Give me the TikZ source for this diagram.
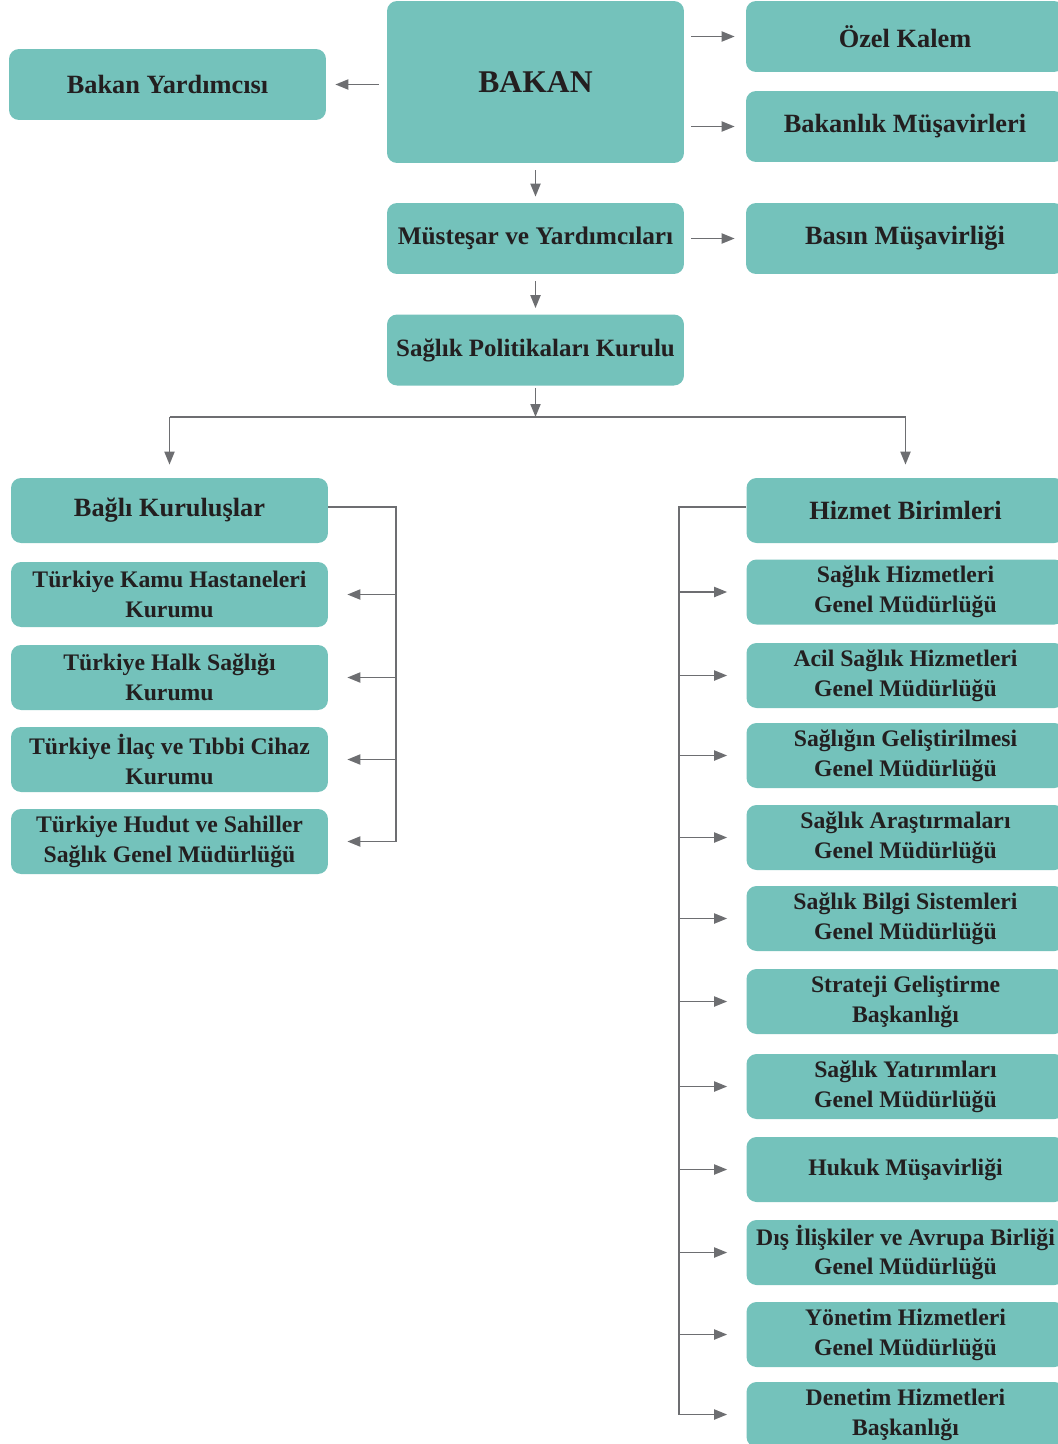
\documentclass[tikz,border=0pt]{standalone}
\usepackage{fontspec}
\setmainfont{Liberation Serif}
\usepackage{tikz}
\usetikzlibrary{%
	arrows.meta,%
	calc%
}
\definecolor{kutu}{HTML}{74C2BB}
\definecolor{ok}{HTML}{6D6E71}
\definecolor{yazi}{HTML}{231F20}

\tikzset{
	birim/.style={fill=kutu,rounded corners=0.2cm,align=center,text=yazi,
		font=\fontsize{13.5pt}{17pt}\selectfont\bfseries,inner sep=0pt},
	genis/.style={birim,minimum width=6.34cm,minimum height=1.3cm},
	orta/.style={birim,minimum width=5.94cm,minimum height=1.42cm},
	sag/.style={birim,minimum width=6.36cm,minimum height=1.3cm},
	baslik/.style={font=\fontsize{15pt}{18pt}\selectfont\bfseries},
	hat/.style={draw=ok,line width=1.1pt},
	okhat/.style={hat,-{Triangle[length=0.26cm,width=0.2cm]}}
}

\begin{document}
\begin{tikzpicture}[x=0.02cm,y=-0.02cm]
			\useasboundingbox (0,0) rectangle (1058,1444);
			% ust kisim
			\node[orta,minimum height=3.24cm,font=\fontsize{18pt}{20pt}\selectfont\bfseries] (bakan) at (535.5,82) {BAKAN};
			\node[genis,baslik,minimum height=1.42cm] (yard) at (167.5,84.5) {Bakan Yardımcısı};
			\node[sag,baslik,minimum height=1.42cm] (ozel) at (905,36.5) {Özel Kalem};
			\node[sag,baslik,minimum height=1.42cm] (musavir) at (905,126.5) {Bakanlık Müşavirleri};
			\node[orta,font=\fontsize{14.4pt}{17pt}\selectfont\bfseries] (mustesar) at (535.5,238.5) {Müsteşar ve Yardımcıları};
			\node[sag,baslik,minimum height=1.42cm] (basin) at (905,238.5) {Basın Müşavirliği};
			\node[orta,font=\fontsize{14.2pt}{17pt}\selectfont\bfseries] (spk) at (535.5,350) {Sağlık Politikaları Kurulu};
			
			\draw[okhat,shorten <=0.16cm,shorten >=0.18cm] (bakan.west |- yard) -- (yard);
			\draw[okhat,shorten <=0.14cm,shorten >=0.22cm] (bakan.east |- ozel) -- (ozel);
			\draw[okhat,shorten <=0.14cm,shorten >=0.22cm] (bakan.east |- musavir) -- (musavir);
			\draw[okhat,shorten <=0.14cm,shorten >=0.12cm] (bakan) -- (mustesar);
			\draw[okhat,shorten <=0.14cm,shorten >=0.22cm] (mustesar) -- (basin);
			\draw[okhat,shorten <=0.14cm,shorten >=0.12cm] (mustesar) -- (spk);
			
			% ayrim
			\coordinate (ayrim) at (535.5,417);
			\draw[okhat,shorten <=0.04cm] (spk) -- (ayrim);
			
			% sol kolon
			\node[genis,baslik] (bagli) at (169.5,510.5) {Bağlı Kuruluşlar};
			\node[genis] (sol1) at (169.5,594.5) {Türkiye Kamu Hastaneleri\\Kurumu};
			\node[genis] (sol2) at (169.5,677.5) {Türkiye Halk Sağlığı\\Kurumu};
			\node[genis] (sol3) at (169.5,759.5) {Türkiye İlaç ve Tıbbi Cihaz\\Kurumu};
			\node[genis] (sol4) at (169.5,841.5) {Türkiye Hudut ve Sahiller\\Sağlık Genel Müdürlüğü};
			
			% sag kolon
			\node[sag,baslik] (hizmet) at (905.5,510.5) {Hizmet Birimleri};
			\node[sag] (sag1) at (905.5,592) {Sağlık Hizmetleri\\Genel Müdürlüğü};
			\node[sag] (sag2) at (905.5,675.5) {Acil Sağlık Hizmetleri\\Genel Müdürlüğü};
			\node[sag] (sag3) at (905.5,755.5) {Sağlığın Geliştirilmesi\\Genel Müdürlüğü};
			\node[sag] (sag4) at (905.5,837.5) {Sağlık Araştırmaları\\Genel Müdürlüğü};
			\node[sag] (sag5) at (905.5,918.5) {Sağlık Bilgi Sistemleri\\Genel Müdürlüğü};
			\node[sag] (sag6) at (905.5,1001.5) {Strateji Geliştirme\\Başkanlığı};
			\node[sag] (sag7) at (905.5,1086.5) {Sağlık Yatırımları\\Genel Müdürlüğü};
			\node[sag] (sag8) at (905.5,1169.5) {Hukuk Müşavirliği};
			\node[sag] (sag9) at (905.5,1252.5) {Dış İlişkiler ve Avrupa Birliği\\Genel Müdürlüğü};
			\node[sag] (sag10) at (905.5,1334.5) {Yönetim Hizmetleri\\Genel Müdürlüğü};
			\node[sag] (sag11) at (905.5,1414.5) {Denetim Hizmetleri\\Başkanlığı};
			
			\draw[hat] (ayrim -| bagli) -- (ayrim -| hizmet);
			\draw[okhat,shorten >=0.26cm] (ayrim -| bagli) -- (bagli);
			\draw[okhat,shorten >=0.26cm] (ayrim -| hizmet) -- (hizmet);
			
			% sol baglanti
			\coordinate (solhat) at (396,507);
			\draw[hat] ($(bagli.east)+(0,-3.5)$) -- (solhat) -- (solhat |- sol4);
			\foreach \i in {1,...,4}
				\draw[okhat,shorten >=0.38cm] (solhat |- sol\i) -- (sol\i.east);
			
			% sag baglanti
			\coordinate (saghat) at (679,507);
			\draw[hat] ($(hizmet.west)+(0,-3.5)$) -- (saghat) -- (saghat |- sag11);
			\foreach \i in {1,...,11}
				\draw[okhat,shorten >=0.38cm] (saghat |- sag\i) -- (sag\i.west);
		\end{tikzpicture}
\end{document}
